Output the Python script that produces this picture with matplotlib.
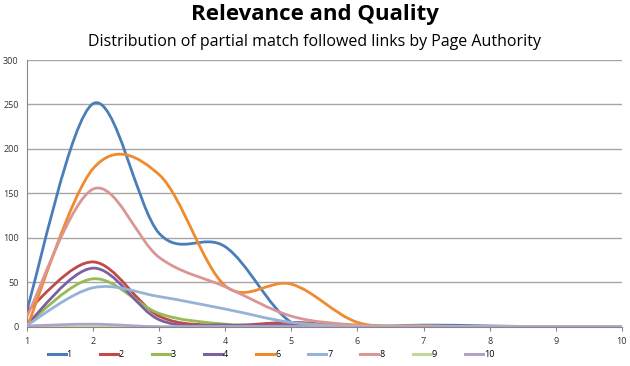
import matplotlib.pyplot as plt
from matplotlib.path import Path
from matplotlib.patches import PathPatch
from matplotlib.lines import Line2D
import numpy as np

pa = [1, 2, 3, 4, 5, 6, 7, 8, 9, 10]

s1 = [20, 251, 105, 90, 5, 0, 2, 1, 0, 0]
s2 = [18, 73, 12, 2, 5, 1, 0, 0, 0, 0]
s3 = [3, 54, 15, 3, 1, 2, 0, 0, 0, 0]
s4 = [3, 66, 8, 2, 2, 0, 0, 0, 0, 0]
s6 = [0, 178, 171, 46, 48, 5, 1, 0, 0, 0]
s7 = [2, 44, 34, 20, 5, 1, 0, 0, 0, 0]
s8 = [12, 155, 78, 45, 12, 2, 1, 0, 0, 0]
s9 = [0, 0, 0, 0, 0, 0, 0, 0, 0, 0]
s10 = [1, 3, 0, 0, 0, 0, 0, 0, 0, 0]

names = ["1", "2", "3", "4", "6", "7", "8", "9", "10"]
series = [s1, s2, s3, s4, s6, s7, s8, s9, s10]
colors = ["#4A7EBB", "#BE4B48", "#98B954", "#7D60A0", "#F08A2E",
          "#95B3D7", "#D99694", "#C3D69B", "#B3A2C7"]


def smooth_path(x, y):
    # Excel-style smoothed line: cubic bezier through the points
    x = np.asarray(x, float)
    y = np.asarray(y, float)
    n = len(x)
    verts = [(x[0], y[0])]
    codes = [Path.MOVETO]
    for i in range(n - 1):
        p0 = max(i - 1, 0)
        p3 = min(i + 2, n - 1)
        c1 = (x[i] + (x[i + 1] - x[p0]) / 6, y[i] + (y[i + 1] - y[p0]) / 6)
        c2 = (x[i + 1] - (x[p3] - x[i]) / 6, y[i + 1] - (y[p3] - y[i]) / 6)
        verts += [c1, c2, (x[i + 1], y[i + 1])]
        codes += [Path.CURVE4] * 3
    return Path(verts, codes)


plt.rcParams["font.family"] = ["Open Sans", "DejaVu Sans"]
fig = plt.figure(figsize=(6.3, 3.66), dpi=100)
ax = fig.add_axes([0.043, 0.107, 0.944, 0.729])

for name, vals, c in zip(names, series, colors):
    ax.add_patch(PathPatch(smooth_path(pa, vals), facecolor="none",
                           edgecolor=c, lw=2.0, zorder=3))

ax.set_xlim(1, 10)
ax.set_ylim(0, 300)
ax.set_xticks(pa)
ax.set_yticks(range(0, 301, 50))
ax.grid(axis="y", color="#A6A6A6", lw=1.0)
ax.set_axisbelow(True)
for sp in ["top", "right"]:
    ax.spines[sp].set_visible(False)
ax.spines["left"].set_color("#888888")
ax.spines["bottom"].set_color("#888888")
ax.tick_params(axis="both", labelsize=6.5, colors="#333333", length=0, pad=6)
ax.tick_params(axis="x", length=3, color="#888888", direction="out", pad=4)

fig.text(0.5, 0.96, "Relevance and Quality", ha="center", va="center",
         fontsize=16, fontweight="bold")
fig.text(0.5, 0.886, "Distribution of partial match followed links by Page Authority",
         ha="center", va="center", fontsize=11.5)

handles = [Line2D([0], [0], color=c, lw=2.2) for c in colors]
fig.legend(handles, names, loc="center", bbox_to_anchor=(0.43, 0.032), ncol=9,
           frameon=False, fontsize=6.5, handlelength=2.0, handletextpad=0.1,
           columnspacing=3.1)

fig.savefig("out.png", dpi=100)
